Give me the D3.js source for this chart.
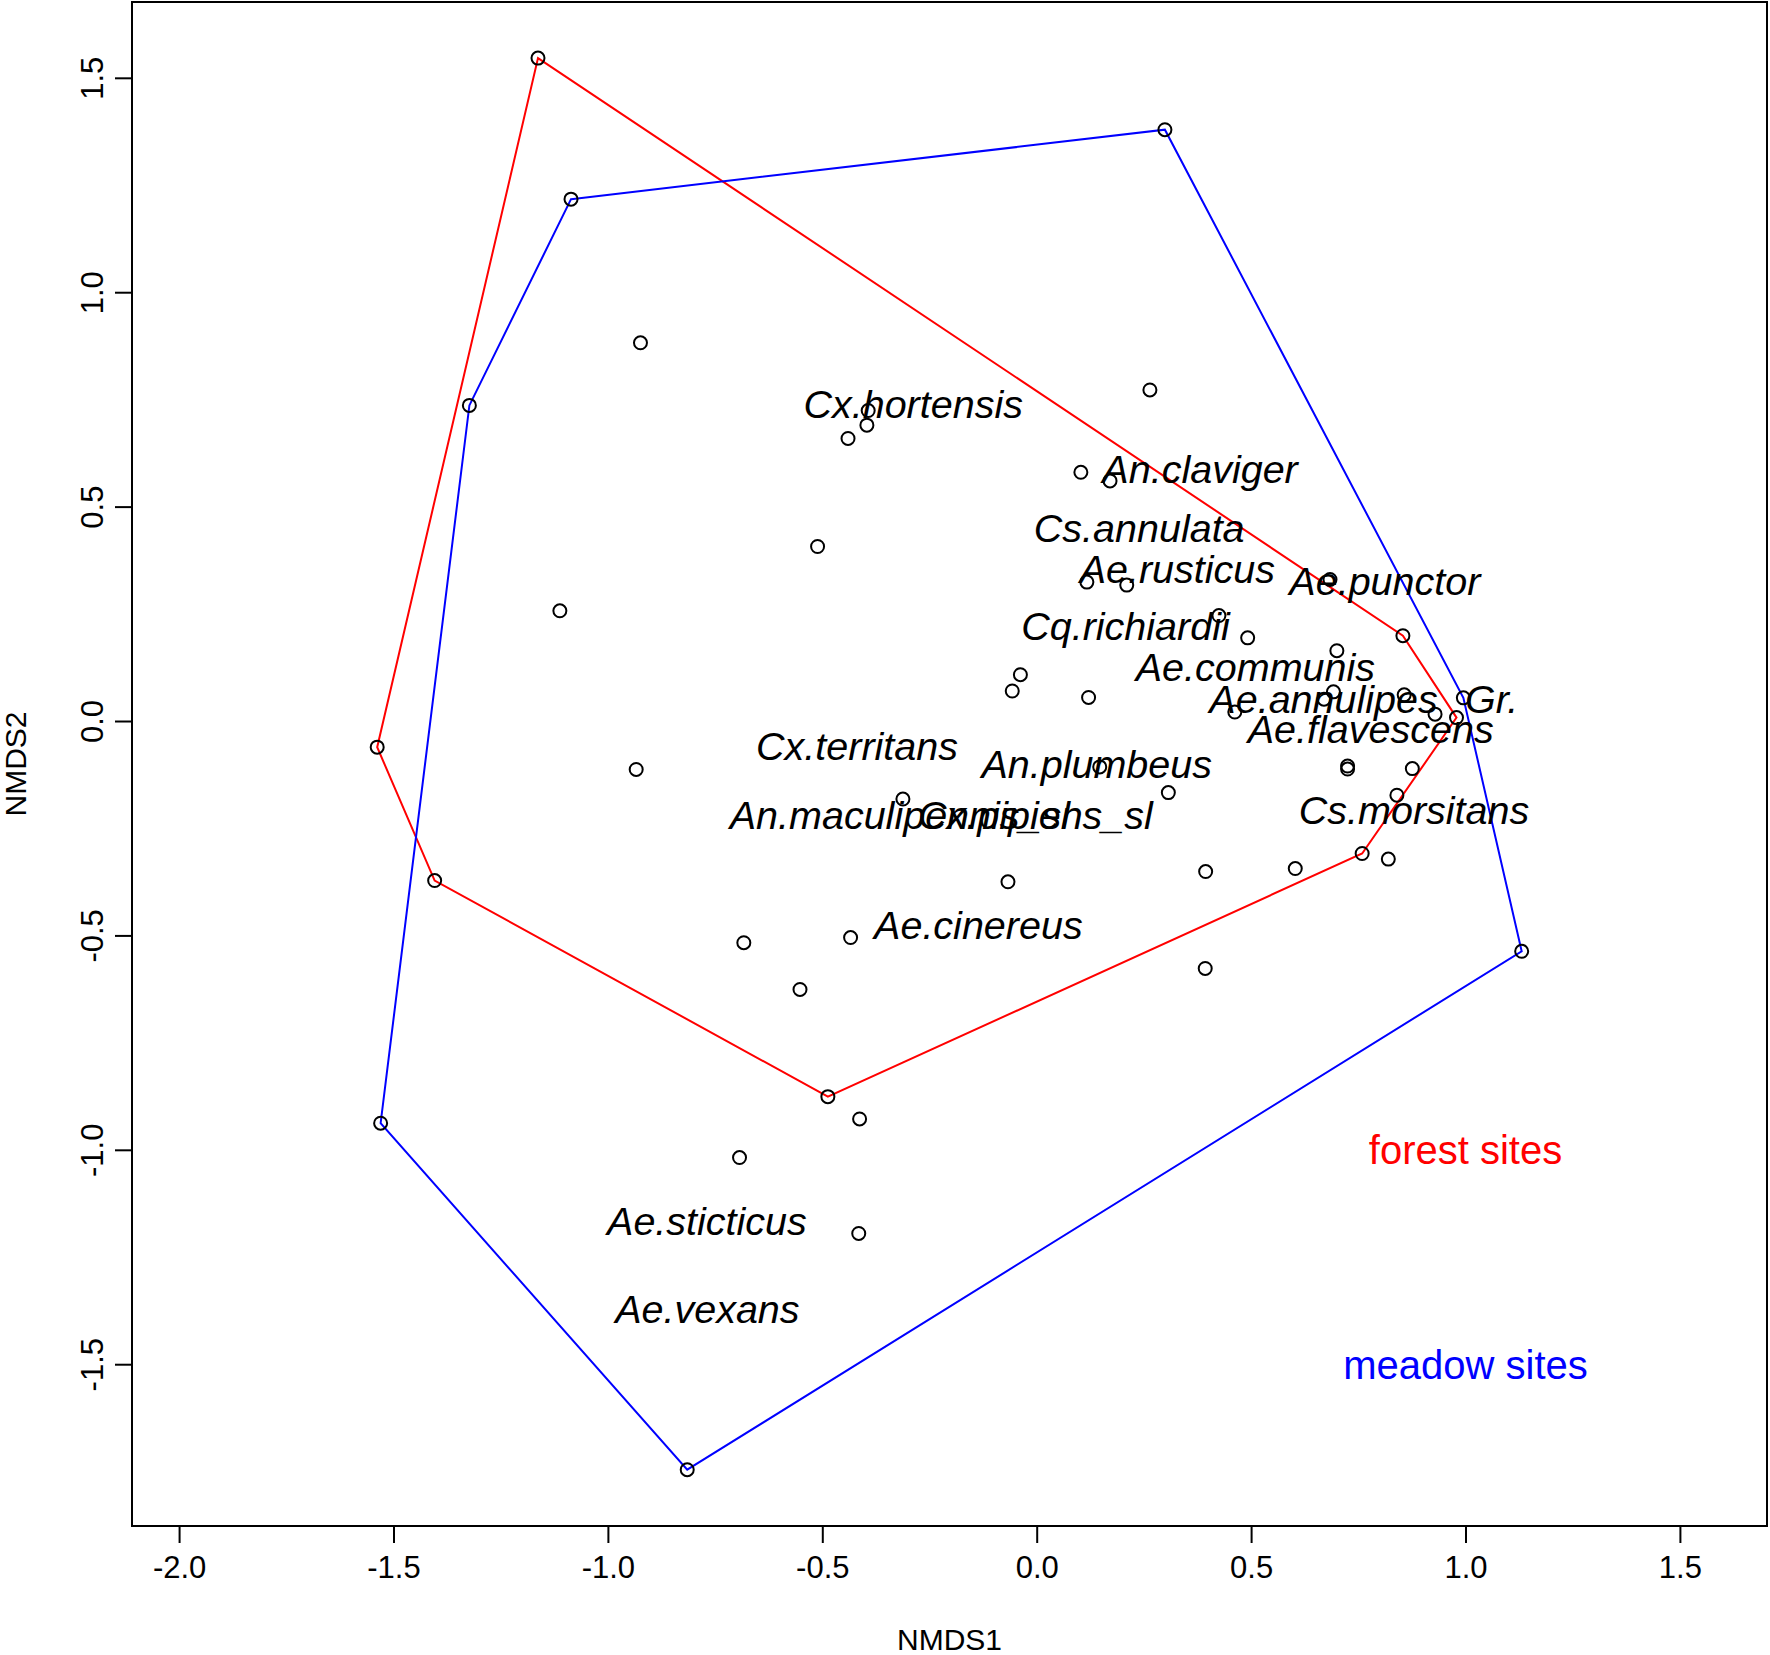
<!DOCTYPE html>
<html>
<head>
<meta charset="utf-8">
<script src="https://cdn.jsdelivr.net/npm/d3@7"></script>
<style>
  body { margin: 0; background: #fff; }
  text { font-family: "Liberation Sans", Arial, sans-serif; }
</style>
</head>
<body>
<div id="plot"></div>
<script>
// site scores (NMDS1, NMDS2)
var siteX = [-1.163, 0.854, 0.979, 0.759, -0.487, -1.404, -1.538,
    -1.086, 0.299, 0.995, 1.131, -0.815, -1.530, -1.323,
    -0.924, -0.393, -0.396, -0.440, 0.264, 0.103, 0.171, -0.511, -1.112,
    0.117, 0.210, 0.425, 0.492, 0.700, 0.684, -0.038, -0.057, 0.121,
    0.462, 0.929, 0.692, 0.670, 0.857, 0.725, 0.725, 0.876, 0.840,
    0.147, 0.307, -0.312, 0.820, 0.603, 0.394, -0.067, 0.393,
    -0.934, -0.683, -0.434, -0.552, -0.413, -0.693, -0.415];
var siteY = [1.546, 0.199, 0.008, -0.309, -0.876, -0.372, -0.061,
    1.217, 1.379, 0.054, -0.537, -1.746, -0.938, 0.736,
    0.882, 0.724, 0.690, 0.659, 0.772, 0.580, 0.560, 0.407, 0.257,
    0.324, 0.317, 0.246, 0.194, 0.164, 0.330, 0.108, 0.070, 0.055,
    0.021, 0.016, 0.068, 0.051, 0.061, -0.105, -0.112, -0.111, -0.173,
    -0.107, -0.167, -0.182, -0.322, -0.344, -0.351, -0.375, -0.577,
    -0.113, -0.517, -0.505, -0.626, -0.928, -1.018, -1.195];

// hull vertices, as indices into the site arrays
var forestHull = [0, 1, 2, 3, 4, 5, 6];
var meadowHull = [7, 8, 9, 10, 11, 12, 13];

// species scores
var speciesNames = ["Cx.hortensis", "An.claviger", "Cs.annulata", "Ae.rusticus",
    "Ae.punctor", "Cq.richiardii", "Ae.communis", "Ae.annulipes", "Gr.",
    "Ae.flavescens", "Cx.territans", "An.plumbeus", "An.maculipennis_sl",
    "Cx.pipiens_sl", "Ae.cinereus", "Cs.morsitans", "Ae.sticticus", "Ae.vexans"];
var speciesX = [-0.288, 0.381, 0.239, 0.328, 0.812, 0.207, 0.510, 0.669, 1.061,
    0.779, -0.419, 0.140, -0.319, -0.003, -0.136, 0.880, -0.769, -0.768];
var speciesY = [0.740, 0.588, 0.451, 0.356, 0.326, 0.222, 0.127, 0.052, 0.052,
    -0.017, -0.058, -0.100, -0.219, -0.219, -0.475, -0.206, -1.166, -1.371];

var groupNames = ["forest sites", "meadow sites"];
var groupX = [1.0, 1.0];
var groupY = [-1.0, -1.5];

var xTicks = [-2.0, -1.5, -1.0, -0.5, 0.0, 0.5, 1.0, 1.5];
var xTickLabels = ["-2.0", "-1.5", "-1.0", "-0.5", "0.0", "0.5", "1.0", "1.5"];
var yTicks = [-1.5, -1.0, -0.5, 0.0, 0.5, 1.0, 1.5];
var yTickLabels = ["-1.5", "-1.0", "-0.5", "0.0", "0.5", "1.0", "1.5"];

var svgWidth = 1770;
var svgHeight = 1655;

var margin = {
    top: 2,
    right: 3,
    bottom: 129,
    left: 132
};

var width = svgWidth - margin.left - margin.right;
var height = svgHeight - margin.top - margin.bottom;

var svg = d3.select("#plot")
    .append("svg")
    .attr("width", svgWidth)
    .attr("height", svgHeight);

var chartGroup = svg.append("g")
    .attr("transform", `translate(${margin.left}, ${margin.top})`);

var xScale = d3.scaleLinear()
    .domain([-2.1098, 1.7031])
    .range([0, width]);

var yScale = d3.scaleLinear()
    .domain([-1.8773, 1.6768])
    .range([height, 0]);

var bottomAxis = d3.axisBottom(xScale)
    .tickValues(xTicks)
    .tickFormat((d, i) => xTickLabels[i])
    .tickSize(17)
    .tickSizeOuter(0)
    .tickPadding(13);

var leftAxis = d3.axisLeft(yScale)
    .tickValues(yTicks)
    .tickFormat((d, i) => yTickLabels[i])
    .tickSize(17)
    .tickSizeOuter(0);

var xAxisG = chartGroup.append("g")
    .attr("transform", `translate(0, ${height})`)
    .call(bottomAxis);

var yAxisG = chartGroup.append("g")
    .call(leftAxis);

[xAxisG, yAxisG].forEach(function(g) {
    g.select(".domain").remove();
    g.selectAll(".tick line").attr("stroke", "#000").attr("stroke-width", 2);
    g.selectAll(".tick text")
        .attr("fill", "#000")
        .style("font-size", "31px")
        .style("font-family", "'Liberation Sans', Arial, sans-serif");
});

// y labels run along the axis, as R draws them
yAxisG.selectAll(".tick text")
    .attr("x", null)
    .attr("dy", null)
    .attr("text-anchor", "middle")
    .attr("transform", "translate(-29, 0) rotate(-90)");

// frame
chartGroup.append("rect")
    .attr("x", 0)
    .attr("y", 0)
    .attr("width", width)
    .attr("height", height)
    .attr("fill", "none")
    .attr("stroke", "#000")
    .attr("stroke-width", 2);

var hullLine = d3.line()
    .x(i => xScale(siteX[i]))
    .y(i => yScale(siteY[i]))
    .curve(d3.curveLinearClosed);

chartGroup.append("path")
    .attr("d", hullLine(forestHull))
    .attr("fill", "none")
    .attr("stroke", "#ff0000")
    .attr("stroke-width", 2);

chartGroup.append("path")
    .attr("d", hullLine(meadowHull))
    .attr("fill", "none")
    .attr("stroke", "#0000ff")
    .attr("stroke-width", 2);

chartGroup.selectAll("circle.site")
    .data(d3.range(siteX.length))
    .enter()
    .append("circle")
    .attr("class", "site")
    .attr("cx", i => xScale(siteX[i]))
    .attr("cy", i => yScale(siteY[i]))
    .attr("r", 6.5)
    .attr("fill", "none")
    .attr("stroke", "#000")
    .attr("stroke-width", 2);

chartGroup.selectAll("text.species")
    .data(speciesNames)
    .enter()
    .append("text")
    .attr("class", "species")
    .attr("x", (d, i) => xScale(speciesX[i]))
    .attr("y", (d, i) => yScale(speciesY[i]))
    .attr("dy", "0.36em")
    .attr("text-anchor", "middle")
    .attr("font-size", 39.5)
    .attr("font-style", "italic")
    .attr("fill", "#000")
    .text(d => d);

var groupColors = ["#ff0000", "#0000ff"];
chartGroup.selectAll("text.group")
    .data(groupNames)
    .enter()
    .append("text")
    .attr("class", "group")
    .attr("x", (d, i) => xScale(groupX[i]))
    .attr("y", (d, i) => yScale(groupY[i]))
    .attr("dy", "0.36em")
    .attr("text-anchor", "middle")
    .attr("font-size", 40)
    .attr("fill", (d, i) => groupColors[i])
    .text(d => d);

// axis titles
svg.append("text")
    .attr("x", margin.left + width / 2)
    .attr("y", 1650)
    .attr("text-anchor", "middle")
    .attr("font-size", 30)
    .text("NMDS1");

svg.append("text")
    .attr("text-anchor", "middle")
    .attr("font-size", 30)
    .attr("transform", `translate(26, ${margin.top + height / 2}) rotate(-90)`)
    .text("NMDS2");
</script>
</body>
</html>
